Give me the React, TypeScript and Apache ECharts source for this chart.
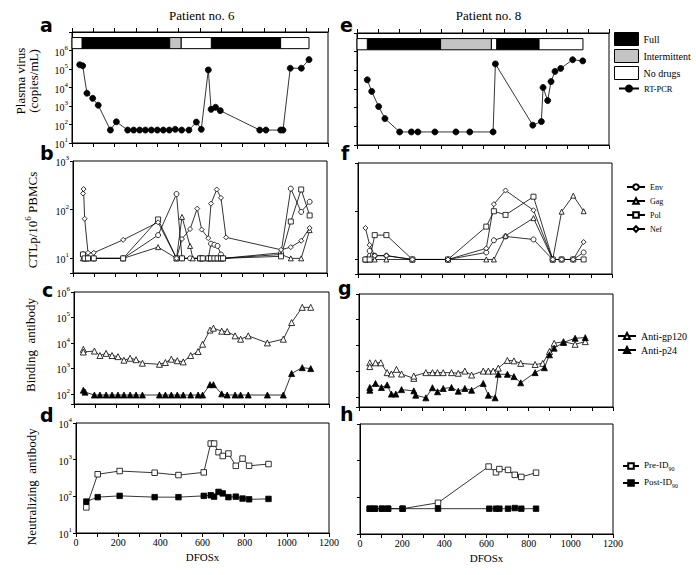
import React, { useEffect, useRef } from "react";
import * as echarts from "echarts";

// ---------- DATA ----------
// treatment periods: [start day, end day, regimen]
const TREAT_P6: [number, number, string][] = [
  [0, 47, "none"], [47, 458, "full"], [458, 512, "intermittent"],
  [512, 653, "none"], [653, 978, "full"], [978, 1111, "none"],
];
const TREAT_P8: [number, number, string][] = [
  [0, 49, "none"], [49, 398, "full"], [398, 640, "intermittent"],
  [640, 665, "none"], [665, 867, "full"], [867, 1076, "none"],
];

// plasma virus (copies/mL)
const VIRUS_P6_DAYS = [36, 50, 70, 97, 123, 180, 208, 261, 289, 317, 344, 372, 400, 428, 456, 484, 514, 548, 583, 606, 639, 652, 673, 695, 880, 909, 978, 989, 1023, 1075, 1111];
const VIRUS_P6 = [170000, 150000, 4900, 2600, 1100, 50, 140, 50, 50, 50, 50, 50, 50, 50, 50, 55, 50, 50, 135, 55, 89000, 660, 850, 560, 50, 50, 50, 50, 110000, 110000, 320000];
const VIRUS_P8_DAYS = [49, 70, 103, 133, 203, 259, 290, 371, 471, 537, 648, 659, 837, 878, 886, 908, 924, 943, 970, 1027, 1075];
const VIRUS_P8 = [31000, 7400, 1150, 260, 50, 50, 50, 50, 50, 50, 50, 220000, 115, 180, 12000, 2400, 25000, 87000, 126000, 370000, 320000];

// CTLp / 10^6 PBMCs, patient 6
const ENV_P6_DAYS = [47, 55, 71, 98, 237, 402, 489, 515, 553, 600, 613, 639, 652, 668, 683, 699, 709, 983, 1029, 1078, 1118];
const ENV_P6 = [12, 10, 10, 10, 10, 30, 210, 10, 10, 10, 10, 10, 20, 19, 18, 12, 10, 13, 270, 90, 145];
const GAG_P6_DAYS = [47, 55, 71, 98, 237, 402, 489, 515, 553, 566, 600, 613, 639, 652, 668, 683, 699, 709, 983, 1029, 1078, 1118];
const GAG_P6 = [10, 10, 10, 10, 10, 17, 10, 71, 18, 10, 10, 10, 10, 10, 10, 10, 10, 10, 12, 10, 10, 38];
const POL_P6_DAYS = [47, 55, 71, 98, 237, 402, 489, 515, 600, 613, 639, 652, 668, 683, 699, 709, 983, 1029, 1078, 1118];
const POL_P6 = [12, 10, 10, 10, 10, 63, 10, 10, 10, 10, 10, 10, 10, 10, 10, 10, 11, 57, 260, 76];
const NEF_P6_DAYS = [47, 50, 55, 71, 98, 237, 402, 489, 515, 553, 587, 608, 639, 652, 679, 699, 723, 983, 1029, 1078, 1118];
const NEF_P6 = [215, 265, 65, 13, 13, 24, 55, 10, 25, 40, 105, 39, 26, 133, 260, 175, 27, 15, 17, 23, 42];

// CTLp / 10^6 PBMCs, patient 8
const CTL_P8_DAYS = [35, 55, 79, 134, 257, 425, 606, 642, 697, 829, 920, 962, 1017, 1066];
const ENV_P8 = [10, 15, 12, 12, 10, 10, 14, 25, 30, 26, 10, 10, 10, 14];
const GAG_P8 = [10, 10, 10, 10, 10, 10, 10, 10, 31, 72, 10, 98, 210, 100];
const POL_P8 = [10, 10, 32, 32, 10, 10, 48, 100, 84, 200, 10, 10, 10, 10];
const NEF_P8 = [45, 20, 12, 12, 10, 10, 17, 140, 270, 105, 10, 10, 10, 23];

// binding antibody
const GP120_P6_DAYS = [44, 44, 96, 122, 151, 179, 207, 235, 264, 292, 322, 402, 430, 458, 486, 514, 549, 584, 605, 640, 656, 695, 721, 758, 784, 820, 910, 985, 1024, 1074, 1114];
const GP120_P6 = [5600, 4400, 4800, 3200, 3900, 3200, 2900, 2100, 2500, 2200, 1600, 1450, 1700, 2300, 2000, 1800, 3200, 4600, 8900, 32000, 38000, 29000, 28000, 19000, 14000, 19000, 10000, 14000, 63000, 250000, 250000];
const P24_P6_DAYS = [44, 52, 96, 122, 151, 179, 207, 235, 264, 292, 322, 402, 430, 458, 486, 514, 549, 584, 605, 640, 656, 695, 721, 758, 784, 820, 910, 985, 1024, 1074, 1114];
const P24_P6 = [140, 117, 90, 90, 90, 90, 90, 90, 90, 90, 90, 90, 90, 90, 90, 90, 90, 90, 90, 230, 230, 100, 90, 90, 90, 90, 90, 90, 630, 1070, 980];
const GP120_P8_DAYS = [51, 51, 78, 103, 133, 153, 177, 201, 259, 259, 316, 347, 371, 398, 437, 469, 500, 532, 587, 611, 634, 658, 701, 732, 764, 832, 868, 900, 922, 966, 1021, 1069];
const GP120_P8 = [2100, 1500, 2100, 2100, 870, 770, 1170, 770, 520, 640, 870, 870, 870, 870, 870, 820, 1000, 700, 1000, 1000, 1000, 1300, 2600, 2500, 2000, 1800, 2000, 5800, 12000, 14000, 11000, 14000];
const P24_P8_DAYS = [51, 51, 78, 106, 133, 153, 174, 201, 259, 268, 316, 347, 371, 398, 437, 469, 500, 532, 587, 611, 643, 658, 701, 732, 764, 832, 876, 900, 922, 966, 1021, 1069];
const P24_P8 = [180, 230, 330, 230, 290, 127, 127, 190, 170, 115, 91, 225, 157, 210, 230, 165, 210, 180, 330, 115, 91, 750, 750, 610, 350, 870, 1350, 4300, 7800, 13000, 19000, 20000];

// neutralizing antibody
const NEUT_P6_DAYS = [49, 103, 207, 373, 486, 606, 639, 655, 676, 696, 723, 758, 790, 821, 913];
const PRE_P6 = [50, 400, 490, 440, 380, 450, 2750, 2750, 1600, 1260, 1470, 680, 1070, 680, 760];
const POST_P6 = [72, 95, 103, 95, 95, 103, 107, 98, 132, 120, 95, 98, 87, 83, 85];
const PRE_P8_DAYS = [46, 70, 104, 133, 202, 370, 610, 645, 661, 702, 734, 765, 835];
const PRE_P8 = [49, 49, 49, 49, 49, 71, 690, 480, 590, 560, 410, 360, 470];
const POST_P8_DAYS = [46, 70, 104, 133, 202, 370, 613, 645, 661, 702, 734, 765, 835];
const POST_P8 = [49, 49, 49, 49, 49, 49, 49, 49, 49, 49, 51, 49, 49];

const X_TICK_LABELS = [0, 200, 400, 600, 800, 1000, 1200];

// ---------- STYLE ----------
const SERIF = "'Liberation Serif', 'Times New Roman', serif";
const SANS_BOLD = "'DejaVu Sans', 'Liberation Sans', sans-serif";
const BAR_LOW = Math.pow(10, 6.1);
const BAR_HIGH = Math.pow(10, 6.7);
const GRAY = "#c4c4c4";

const GRIDS = [
  { left: 72, top: 32, width: 256, height: 111 },
  { left: 73, top: 161, width: 254, height: 112 },
  { left: 74, top: 292, width: 255, height: 112 },
  { left: 76, top: 423, width: 253, height: 110 },
  { left: 357, top: 33, width: 252, height: 112 },
  { left: 358, top: 163, width: 254, height: 111 },
  { left: 359, top: 294, width: 254, height: 113 },
  { left: 360, top: 424, width: 253, height: 110 },
];

const zip = (xs: number[], ys: number[]) => xs.map((x, i) => [x, ys[i]]);

function yAxis(gridIndex: number, min: number, max: number, exps: number[] | null) {
  return {
    type: "log",
    logBase: 10,
    gridIndex,
    min,
    max,
    axisLine: { show: true, lineStyle: { color: "#000", width: 1 } },
    axisTick: { show: true, length: 3, lineStyle: { color: "#000" } },
    minorTick: { show: false },
    splitLine: { show: false },
    axisLabel: {
      show: !!exps,
      margin: 4,
      color: "#000",
      formatter: (v: number) => {
        const e = Math.log10(v);
        const r = Math.round(e);
        if (Math.abs(e - r) > 1e-6 || !exps || exps.indexOf(r) < 0) return "";
        return `{b|10}{s|${r}}`;
      },
      rich: {
        b: { fontFamily: SERIF, fontSize: 10, lineHeight: 13, verticalAlign: "bottom", color: "#000" },
        s: { fontFamily: SERIF, fontSize: 7, lineHeight: 6, verticalAlign: "top", color: "#000" },
      },
    },
  };
}

function xAxis(gridIndex: number, position: string, labels: boolean) {
  return {
    type: "value",
    gridIndex,
    position,
    min: 0,
    max: 1200,
    interval: 100,
    axisLine: { show: true, onZero: false, lineStyle: { color: "#000", width: 1 } },
    axisTick: { show: true, length: 4, lineStyle: { color: "#000" } },
    splitLine: { show: false },
    axisLabel: {
      show: labels,
      margin: 4,
      color: "#000",
      fontFamily: SERIF,
      fontSize: 10,
      formatter: (v: number) => (X_TICK_LABELS.indexOf(v) >= 0 ? String(v) : ""),
    },
    name: labels ? "DFOSx" : "",
    nameLocation: "middle",
    nameGap: 18,
    nameTextStyle: { fontFamily: SERIF, fontSize: 11, color: "#000" },
  };
}

function lineSeries(name: string, idx: number, data: number[][], symbol: string, size: number, filled: boolean) {
  return {
    type: "line",
    name,
    xAxisIndex: idx,
    yAxisIndex: idx,
    data,
    symbol,
    symbolSize: size,
    showSymbol: true,
    showAllSymbol: true,
    lineStyle: { color: "#000", width: 0.8 },
    itemStyle: { color: filled ? "#000" : "#fff", borderColor: "#000", borderWidth: 0.8 },
    emphasis: { disabled: true },
    silent: true,
  };
}

function treatSeries(name: string, kind: string, fill: string, segs: [number, number, string][], idx: number) {
  return {
    type: "custom",
    name,
    xAxisIndex: idx,
    yAxisIndex: idx,
    data: segs.filter((s) => s[2] === kind).map((s) => [s[0], s[1]]),
    itemStyle: { color: fill, borderColor: "#000", borderWidth: 1 },
    silent: true,
    renderItem: (_p: any, api: any) => {
      const a = api.coord([api.value(0), BAR_HIGH]);
      const b = api.coord([api.value(1), BAR_LOW]);
      return {
        type: "rect",
        shape: { x: a[0], y: a[1], width: b[0] - a[0], height: b[1] - a[1] },
        style: { fill, stroke: "#000", lineWidth: 1 },
      };
    },
  };
}

function text(x: number, y: number, t: string, size: number, family: string, extra: any = {}) {
  return {
    type: "text",
    x,
    y,
    silent: true,
    ...extra,
    style: {
      text: t,
      fontSize: size,
      fontFamily: family,
      fill: "#000",
      align: extra.align || "center",
      verticalAlign: "middle",
      ...(extra.style || {}),
    },
  };
}

function buildOption() {
  const series: any[] = [];
  // treatment bars
  series.push(treatSeries("Full", "full", "#000", TREAT_P6, 0));
  series.push(treatSeries("Intermittent", "intermittent", GRAY, TREAT_P6, 0));
  series.push(treatSeries("No drugs", "none", "#fff", TREAT_P6, 0));
  series.push(treatSeries("Full", "full", "#000", TREAT_P8, 4));
  series.push(treatSeries("Intermittent", "intermittent", GRAY, TREAT_P8, 4));
  series.push(treatSeries("No drugs", "none", "#fff", TREAT_P8, 4));
  // virus
  series.push(lineSeries("RT-PCR", 0, zip(VIRUS_P6_DAYS, VIRUS_P6), "circle", 6, true));
  series.push(lineSeries("RT-PCR", 4, zip(VIRUS_P8_DAYS, VIRUS_P8), "circle", 6, true));
  // CTL
  series.push(lineSeries("Env", 1, zip(ENV_P6_DAYS, ENV_P6), "circle", 5, false));
  series.push(lineSeries("Gag", 1, zip(GAG_P6_DAYS, GAG_P6), "triangle", 5, false));
  series.push(lineSeries("Pol", 1, zip(POL_P6_DAYS, POL_P6), "rect", 5, false));
  series.push(lineSeries("Nef", 1, zip(NEF_P6_DAYS, NEF_P6), "diamond", 5, false));
  series.push(lineSeries("Env", 5, zip(CTL_P8_DAYS, ENV_P8), "circle", 5, false));
  series.push(lineSeries("Gag", 5, zip(CTL_P8_DAYS, GAG_P8), "triangle", 5, false));
  series.push(lineSeries("Pol", 5, zip(CTL_P8_DAYS, POL_P8), "rect", 5, false));
  series.push(lineSeries("Nef", 5, zip(CTL_P8_DAYS, NEF_P8), "diamond", 5, false));
  // binding
  series.push(lineSeries("Anti-gp120", 2, zip(GP120_P6_DAYS, GP120_P6), "triangle", 6, false));
  series.push(lineSeries("Anti-p24", 2, zip(P24_P6_DAYS, P24_P6), "triangle", 6, true));
  series.push(lineSeries("Anti-gp120", 6, zip(GP120_P8_DAYS, GP120_P8), "triangle", 6, false));
  series.push(lineSeries("Anti-p24", 6, zip(P24_P8_DAYS, P24_P8), "triangle", 6, true));
  // neutralizing
  series.push(lineSeries("Pre-ID90", 3, zip(NEUT_P6_DAYS, PRE_P6), "rect", 5.5, false));
  series.push(lineSeries("Post-ID90", 3, zip(NEUT_P6_DAYS, POST_P6), "rect", 5.5, true));
  series.push(lineSeries("Pre-ID90", 7, zip(PRE_P8_DAYS, PRE_P8), "rect", 5.5, false));
  series.push(lineSeries("Post-ID90", 7, zip(POST_P8_DAYS, POST_P8), "rect", 5.5, true));

  const boxStyle = (c: string) => ({ color: c, borderColor: "#000", borderWidth: 1 });

  const legend = [
    {
      left: 614, top: 32, orient: "vertical", padding: 0, itemWidth: 24, itemHeight: 13, itemGap: 3,
      selectedMode: false,
      textStyle: { fontFamily: SERIF, fontSize: 10, color: "#000" },
      data: [
        { name: "Full", icon: "rect", itemStyle: boxStyle("#000") },
        { name: "Intermittent", icon: "rect", itemStyle: boxStyle(GRAY) },
        { name: "No drugs", icon: "rect", itemStyle: boxStyle("#fff") },
      ],
    },
    {
      left: 618, top: 84, orient: "vertical", padding: 0, itemWidth: 20, itemHeight: 7.5,
      selectedMode: false,
      textStyle: { fontFamily: SERIF, fontSize: 8.5, color: "#000" },
      data: ["RT-PCR"],
    },
    {
      left: 626, top: 183, orient: "vertical", padding: 0, itemWidth: 18, itemHeight: 7, itemGap: 6,
      selectedMode: false,
      textStyle: { fontFamily: SERIF, fontSize: 8, color: "#000" },
      data: ["Env", "Gag", "Pol", "Nef"],
    },
    {
      left: 617, top: 331, orient: "vertical", padding: 0, itemWidth: 18, itemHeight: 7.5, itemGap: 4,
      selectedMode: false,
      textStyle: { fontFamily: SERIF, fontSize: 10, color: "#000" },
      data: ["Anti-gp120", "Anti-p24"],
    },
    {
      left: 622, top: 460, orient: "vertical", padding: 0, itemWidth: 16, itemHeight: 7, itemGap: 5,
      selectedMode: false,
      formatter: (n: string) => (n === "Pre-ID90" ? "{n|Pre-ID}{s|90}" : "{n|Post-ID}{s|90}"),
      textStyle: {
        fontFamily: SERIF, fontSize: 9, color: "#000",
        rich: {
          n: { fontFamily: SERIF, fontSize: 9, lineHeight: 12, verticalAlign: "top", color: "#000" },
          s: { fontFamily: SERIF, fontSize: 6, lineHeight: 7, verticalAlign: "bottom", color: "#000" },
        },
      },
      data: ["Pre-ID90", "Post-ID90"],
    },
  ];

  const rot = Math.PI / 2;
  const letter = (x: number, y: number, t: string) =>
    text(x, y, t, 19, SANS_BOLD, { align: "left", style: { fontWeight: "bold" } });
  const graphic = [
    text(201.7, 15.5, "Patient no. 6", 13, SERIF),
    text(488.5, 15.5, "Patient no. 8", 13, SERIF),
    // panel letters
    letter(40, 25, "a"),
    letter(40, 153.4, "b"),
    letter(42, 290, "c"),
    letter(40, 415, "d"),
    letter(340, 25, "e"),
    letter(341, 153.4, "f"),
    letter(338, 287.5, "g"),
    letter(340, 414, "h"),
    // y axis titles
    text(26.5, 81, "Plasma virus\n(copies/mL)", 13, SERIF, { rotation: rot, style: { lineHeight: 13 } }),
    text(31, 220, "{a|CTLp/10}{s|6}{a| PBMCs}", 13, SERIF, {
      rotation: rot,
      style: {
        rich: {
          a: { fontFamily: SERIF, fontSize: 13, lineHeight: 15, verticalAlign: "bottom", fill: "#000" },
          s: { fontFamily: SERIF, fontSize: 9, lineHeight: 8, verticalAlign: "top", fill: "#000" },
        },
      },
    }),
    text(30.5, 345, "Binding\u00a0 antibody", 13, SERIF, { rotation: rot }),
    text(31.5, 486.7, "Neutralizing\u00a0 antibody", 13, SERIF, { rotation: rot }),
  ];

  return {
    animation: false,
    backgroundColor: "#fff",
    grid: GRIDS.map((g) => ({ ...g, show: true, borderColor: "#000", borderWidth: 1, backgroundColor: "transparent" })),
    xAxis: [
      xAxis(0, "bottom", false),
      xAxis(1, "bottom", false),
      xAxis(2, "bottom", false),
      xAxis(3, "bottom", true),
      xAxis(4, "bottom", false),
      xAxis(5, "bottom", false),
      xAxis(6, "bottom", false),
      xAxis(7, "bottom", true),
      xAxis(0, "top", false),
      xAxis(4, "top", false),
    ],
    yAxis: [
      yAxis(0, 10, 1e7, [1, 2, 3, 4, 5, 6]),
      yAxis(1, 5, 1000, [1, 2, 3]),
      yAxis(2, 40, 1e6, [2, 3, 4, 5, 6]),
      yAxis(3, 10, 1e4, [1, 2, 3, 4]),
      yAxis(4, 10, 1e7, null),
      yAxis(5, 5, 1000, null),
      yAxis(6, 40, 1e6, null),
      yAxis(7, 10, 1e4, null),
    ],
    legend,
    series,
    graphic,
  };
}

export default function App() {
  const ref = useRef<HTMLDivElement>(null);
  useEffect(() => {
    document.body.style.margin = "0";
    const chart = echarts.init(ref.current as HTMLDivElement, null, { renderer: "svg" });
    chart.setOption(buildOption() as any);
    return () => chart.dispose();
  }, []);
  return <div ref={ref} style={{ width: 696, height: 575, background: "#fff" }} />;
}
